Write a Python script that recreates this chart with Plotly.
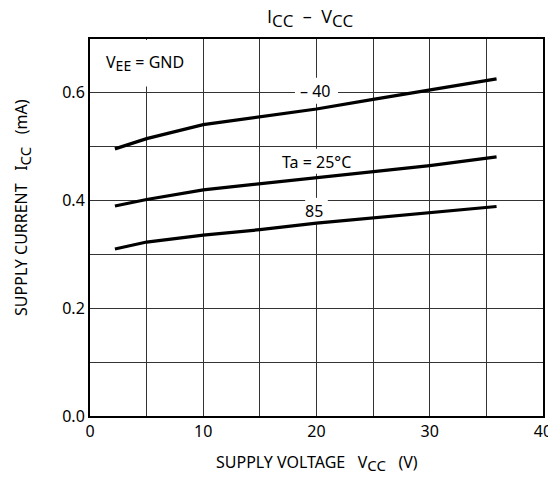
import plotly.graph_objects as go

vcc = [2.2, 5, 10, 15, 20, 25, 30, 35.9]
icc_m40 = [0.496, 0.515, 0.541, 0.555, 0.570, 0.588, 0.606, 0.626]
icc_25 = [0.390, 0.402, 0.420, 0.431, 0.443, 0.454, 0.465, 0.481]
icc_85 = [0.310, 0.323, 0.336, 0.346, 0.358, 0.368, 0.378, 0.389]

series = [("−40", icc_m40), ("Ta = 25°C", icc_25), ("85", icc_85)]

x_ticks = [0, 5, 10, 15, 20, 25, 30, 35, 40]
x_text = ["0", "", "10", "", "20", "", "30", "", "40"]
y_ticks = [0.0, 0.1, 0.2, 0.3, 0.4, 0.5, 0.6, 0.7]
y_text = ["0.0", "", "0.2", "", "0.4", "", "0.6", ""]

FONT = "Noto Sans"


def sub(t, size):
    return "<sub><span style='font-size:%dpx'>%s</span></sub>" % (size, t)


fig = go.Figure()

# white boxes (above grid, below curves)
boxes = [(0.15, 9.6, 0.612, 0.698), (18.1, 21.9, 0.580, 0.628),
         (16.5, 23.6, 0.450, 0.496), (19.0, 21.0, 0.356, 0.405)]
for x0, x1, y0, y1 in boxes:
    fig.add_shape(type="rect", xref="x", yref="y", x0=x0, x1=x1, y0=y0, y1=y1,
                  fillcolor="white", line=dict(width=0), layer="between")

for name, ys in series:
    fig.add_trace(go.Scatter(x=vcc, y=ys, mode="lines", name=name,
                             line=dict(color="black", width=3.2), showlegend=False))

fig.add_annotation(x=1.2, y=0.655, xref="x", yref="y", xanchor="left", yanchor="middle",
                   text="V" + sub("EE", 14) + " = GND", showarrow=False,
                   font=dict(family=FONT, size=16, color="black"))

labels = [("\u2013 40", 19.9, 0.604), ("Ta = 25°C", 20.0, 0.472), ("85", 19.8, 0.380)]
for txt, lx, ly in labels:
    fig.add_annotation(x=lx, y=ly, xref="x", yref="y", text=txt, showarrow=False,
                       xanchor="center", yanchor="middle",
                       font=dict(family=FONT, size=16, color="black"))

# titles
fig.add_annotation(x=0.487, y=1.056, xref="paper", yref="paper", showarrow=False,
                   xanchor="center", yanchor="middle",
                   text="I" + sub("CC", 17) + "\u00a0\u00a0\u2013\u00a0\u00a0V" + sub("CC", 17),
                   font=dict(family="Open Sans", size=18, color="black"))
fig.add_annotation(x=0.5, y=-0.125, xref="paper", yref="paper", showarrow=False,
                   xanchor="center", yanchor="middle",
                   text="SUPPLY VOLTAGE\u00a0\u00a0\u00a0V" + sub("CC", 15) + "\u00a0\u00a0\u00a0(V)",
                   font=dict(family=FONT, size=16, color="black"))
fig.add_annotation(x=-0.150, y=0.552, xref="paper", yref="paper", showarrow=False,
                   xanchor="center", yanchor="middle", textangle=-90,
                   text="SUPPLY CURRENT\u00a0\u00a0\u00a0I" + sub("CC", 15) + "\u00a0\u00a0\u00a0(mA)",
                   font=dict(family=FONT, size=16, color="black"))

# the page body has an 8px margin, so the figure is sized and placed to compensate
fig.update_layout(
    width=548, height=474,
    margin=dict(l=82, r=13, t=31, b=66),
    paper_bgcolor="white", plot_bgcolor="white",
    font=dict(family=FONT, size=16, color="black"),
    xaxis=dict(range=[0, 40], tickvals=x_ticks, ticktext=x_text, showgrid=True,
               gridcolor="#333333", gridwidth=1.2, showline=True, linecolor="black",
               linewidth=2, mirror=True, ticks="", zeroline=False, automargin=False,
               tickfont=dict(size=16)),
    yaxis=dict(range=[0, 0.7], tickvals=y_ticks, ticktext=y_text, showgrid=True,
               gridcolor="#333333", gridwidth=1.2, showline=True, linecolor="black",
               linewidth=2, mirror=True, ticks="", zeroline=False, automargin=False,
               tickfont=dict(size=16)),
)

fig.write_html("out.html")
